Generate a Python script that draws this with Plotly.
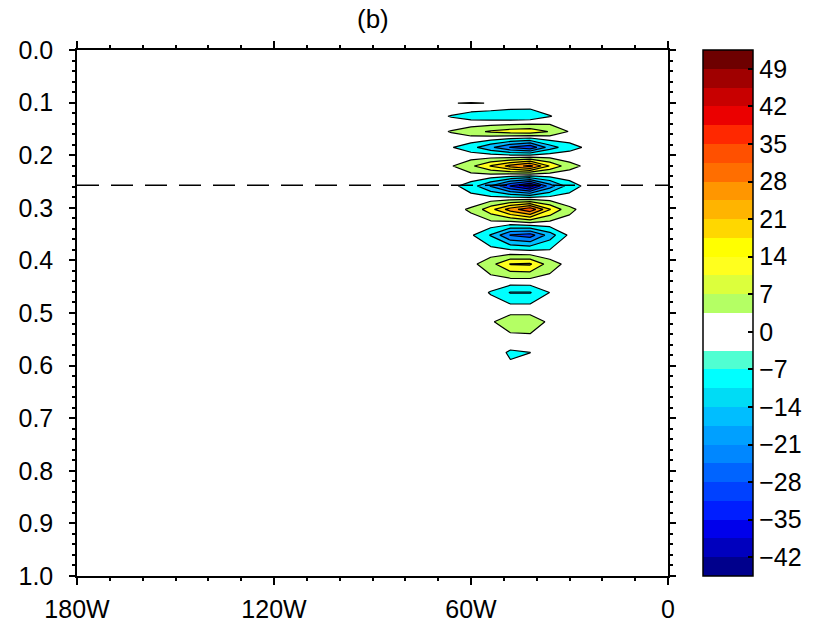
import plotly.graph_objects as go

# ---------------- data ----------------
lon = [-186, -78, -72, -66, -60, -54, -48, -42, -36, -30, -24, -18, -12, 6]
levels = [-0.05, 0.080, 0.101, 0.126, 0.155, 0.185, 0.2205, 0.2586, 0.303,
          0.352, 0.407, 0.461, 0.5165, 0.575, 0.635, 1.05]

r_m050 = [0, 0, 0, 0, 0, 0, 0, 0, 0, 0, 0, 0, 0, 0]
r_0080 = [0, 0, 0, 0, 0, 0, 0, 0, 0, 0, 0, 0, 0, 0]
r_0101 = [0, 0, 0, 3.4, 3.7, 3.4, 2, 1, 0.5, 0, 0, 0, 0, 0]
r_0126 = [0, 0, -1, -4, -7, -8.5, -9.5, -9, -3.8, -1, 0, 0, 0, 0]
r_0155 = [0, 0, 1, 4, 8, 11.5, 14, 15, 10, 3, 0.5, 0, 0, 0]
r_0185 = [0, 0, -1, -3, -8, -16, -25, -30, -14, -6, -2, 0, 0, 0]
r_0220 = [0, 0, 1, 3, 9, 18, 27, 34, 17, 6, 1.5, 0, 0, 0]
r_0259 = [0, 0, -1, -1.5, -7, -18, -32, -42, -21, -7, -1, 0, 0, 0]
r_0303 = [0, 0, 0.5, 1, 4.5, 15, 28, 37, 18, 5, 0.5, 0, 0, 0]
r_0352 = [0, 0, 0, -0.5, -2.5, -11, -25, -28, -14, -2, 0, 0, 0, 0]
r_0407 = [0, 0, 0, 0, 1.5, 8, 18, 18.5, 7, 1, 0, 0, 0, 0]
r_0461 = [0, 0, 0, 0, 0, -4, -11, -11, -3.4, 0, 0, 0, 0, 0]
r_0517 = [0, 0, 0, 0, 0, 2.5, 8, 8, 2, 0, 0, 0, 0, 0]
r_0575 = [0, 0, 0, 0, 0, 0, -4.5, -3.55, 0, 0, 0, 0, 0, 0]
r_0635 = [0, 0, 0, 0, 0, 0, 0, 0, 0, 0, 0, 0, 0, 0]
r_1050 = [0, 0, 0, 0, 0, 0, 0, 0, 0, 0, 0, 0, 0, 0]

dashed_level = 0.257

x_tickvals = [-180, -120, -60, 0]
x_ticktext = ["180W", "120W", "60W", "0"]
y_tickvals = [0.0, 0.1, 0.2, 0.3, 0.4, 0.5, 0.6, 0.7, 0.8, 0.9, 1.0]
y_ticktext = ["0.0", "0.1", "0.2", "0.3", "0.4", "0.5", "0.6", "0.7", "0.8", "0.9", "1.0"]

cb_min, cb_max, cb_step = -45.5, 52.5, 3.5
cb_tickvals = [-42, -35, -28, -21, -14, -7, 0, 7, 14, 21, 28, 35, 42, 49]
cb_ticktext = ["\u221242", "\u221235", "\u221228", "\u221221", "\u221214", "\u22127", "0",
               "7", "14", "21", "28", "35", "42", "49"]
# colours of the 28 colour-bar bands, bottom (-45.5) to top (52.5)
cb_colors = [
    "rgb(0,0,140)", "rgb(0,0,190)", "rgb(0,0,235)", "rgb(0,30,255)",
    "rgb(0,65,255)", "rgb(0,100,255)", "rgb(0,135,255)", "rgb(0,160,255)",
    "rgb(0,190,255)", "rgb(0,220,245)", "rgb(0,255,255)", "rgb(80,255,210)",
    "rgb(255,255,255)", "rgb(255,255,255)",
    "rgb(180,255,100)", "rgb(220,255,60)", "rgb(255,255,30)", "rgb(255,255,0)",
    "rgb(255,215,0)", "rgb(255,180,0)", "rgb(255,150,0)", "rgb(255,110,0)",
    "rgb(255,80,0)", "rgb(255,40,0)", "rgb(235,0,0)", "rgb(200,0,0)",
    "rgb(160,0,0)", "rgb(110,0,0)",
]

# contour lines every 7, starting at -45.5
c_start, c_end, c_size = -45.5, 52.5, 7.0

# ---------------- build ----------------
z = [r_m050, r_0080, r_0101, r_0126, r_0155, r_0185, r_0220, r_0259, r_0303,
     r_0352, r_0407, r_0461, r_0517, r_0575, r_0635, r_1050]

nb = len(cb_colors)
cb_scale = []
for i, c in enumerate(cb_colors):
    cb_scale.append([i / nb, c])
    cb_scale.append([(i + 1) / nb, c])

# fill colour for each contour band: colour of the lower half of the band
nc = int(round((c_end - c_start) / c_size)) + 1
band_cols = []
for k in range(nc + 1):
    lo = c_start + (k - 1) * c_size
    idx = int(round((lo - cb_min) / cb_step))
    idx = max(0, min(nb - 1, idx))
    band_cols.append(cb_colors[idx])
cont_scale = []
for k, c in enumerate(band_cols):
    a = max(0.0, (k - 0.5) / nc)
    b = min(1.0, (k + 0.5) / nc)
    cont_scale.append([a, c])
    cont_scale.append([b, c])

font_family = "Liberation Sans, Arial, sans-serif"
fs = 25

fig = go.Figure()
fig.add_trace(go.Contour(
    x=lon, y=levels, z=z,
    autocontour=False,
    contours=dict(start=c_start, end=c_end, size=c_size,
                  coloring="fill", showlines=True),
    colorscale=cont_scale,
    line=dict(color="black", width=1.2, smoothing=0),
    showscale=False,
    hoverinfo="skip",
))

# colour bar (discrete 3.5 bands)
cb_x = (703 - 77) / 591
fig.add_trace(go.Scatter(
    x=[-90], y=[2.0], mode="markers",
    marker=dict(color=[0], colorscale=cb_scale, cmin=cb_min, cmax=cb_max,
                size=1, showscale=True,
                colorbar=dict(
                    x=cb_x, xanchor="left", xpad=0,
                    y=0.5, yanchor="middle", ypad=0,
                    len=1, lenmode="fraction",
                    thickness=50, thicknessmode="pixels",
                    outlinewidth=1.5, outlinecolor="black",
                    tickmode="array", tickvals=cb_tickvals, ticktext=cb_ticktext,
                    ticks="inside", ticklen=5, tickcolor="black", tickwidth=1.5,
                    tickfont=dict(size=fs, color="black", family=font_family),
                )),
    showlegend=False, hoverinfo="skip",
))

# inner ticks on the left edge of the colour bar
for v in cb_tickvals:
    yp = (v - cb_min) / (cb_max - cb_min)
    fig.add_shape(type="line", xref="paper", yref="paper",
                  x0=cb_x + 1 / 591, x1=cb_x + 6 / 591, y0=yp, y1=yp,
                  line=dict(color="black", width=1.5))

fig.add_shape(type="line", xref="x", yref="y",
              x0=-180, x1=0, y0=dashed_level, y1=dashed_level,
              line=dict(color="black", width=1.5, dash="22px,12px"))

fig.add_annotation(text="(b)", xref="paper", yref="paper", x=0.5, y=1 + 31 / 526,
                   xanchor="center", yanchor="middle", showarrow=False,
                   font=dict(size=26, color="black", family=font_family))

fig.update_xaxes(range=[-180, 0], tickmode="array", tickvals=x_tickvals,
                 ticktext=x_ticktext, ticks="outside", ticklen=7, tickwidth=1.5,
                 tickcolor="black", showline=True, linecolor="black", linewidth=1.5,
                 mirror="allticks", showgrid=False, zeroline=False,
                 ticklabelstandoff=3,
                 tickfont=dict(size=fs, color="black", family=font_family),
                 minor=dict(dtick=10, ticks="outside", ticklen=3, tickwidth=1.5,
                            tickcolor="black", showgrid=False))
fig.update_yaxes(range=[1, 0], tickmode="array", tickvals=y_tickvals,
                 ticktext=y_ticktext, ticks="outside", ticklen=6, tickwidth=1.5,
                 tickcolor="black", showline=True, linecolor="black", linewidth=1.5,
                 mirror="allticks", showgrid=False, zeroline=False,
                 ticklabelstandoff=11,
                 tickfont=dict(size=fs, color="black", family=font_family),
                 minor=dict(dtick=0.02, ticks="outside", ticklen=3, tickwidth=1.5,
                            tickcolor="black", showgrid=False))

fig.update_layout(width=823, height=624,
                  margin=dict(l=77, r=155, t=50, b=48, autoexpand=False),
                  paper_bgcolor="white", plot_bgcolor="white",
                  showlegend=False,
                  font=dict(family=font_family, color="black"))

fig.write_html("out.html")
